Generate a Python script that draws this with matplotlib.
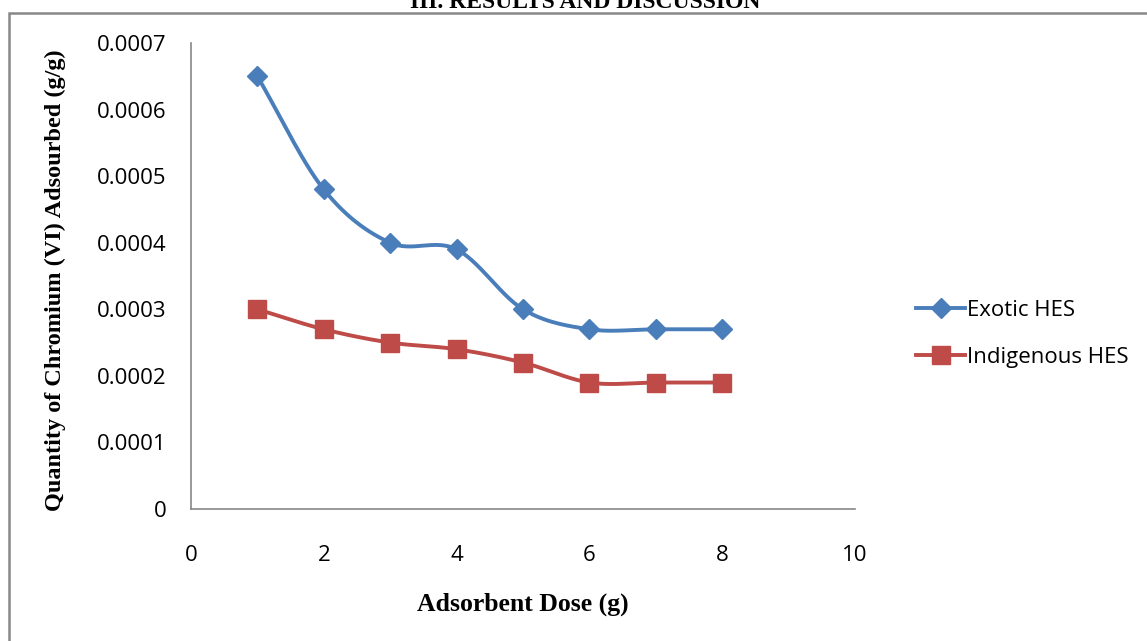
import numpy as np
import matplotlib
matplotlib.use("Agg")
import matplotlib.pyplot as plt
from matplotlib.patches import Rectangle

# data
dose = [1, 2, 3, 4, 5, 6, 7, 8]
exotic = [0.00065, 0.00048, 0.00040, 0.00039, 0.00030, 0.00027, 0.00027, 0.00027]
indigenous = [0.00030, 0.00027, 0.00025, 0.00024, 0.00022, 0.00019, 0.00019, 0.00019]
y_ticks = [0, 0.0001, 0.0002, 0.0003, 0.0004, 0.0005, 0.0006, 0.0007]
y_tick_labels = ["0", "0.0001", "0.0002", "0.0003", "0.0004", "0.0005", "0.0006", "0.0007"]
x_ticks = [0, 2, 4, 6, 8, 10]


def smooth(x, y, n=30):
    # Catmull-Rom style smoothing like Excel's "smoothed line"
    x = np.asarray(x, float)
    y = np.asarray(y, float)
    px = np.concatenate([[2 * x[0] - x[1]], x, [2 * x[-1] - x[-2]]])
    py = np.concatenate([[2 * y[0] - y[1]], y, [2 * y[-1] - y[-2]]])
    xs, ys = [], []
    t = np.linspace(0, 1, n)
    for i in range(1, len(px) - 2):
        p0, p1, p2, p3 = [np.array([px[j], py[j]]) for j in (i - 1, i, i + 1, i + 2)]
        m1 = (p2 - p0) / 2
        m2 = (p3 - p1) / 2
        h00 = 2 * t**3 - 3 * t**2 + 1
        h10 = t**3 - 2 * t**2 + t
        h01 = -2 * t**3 + 3 * t**2
        h11 = t**3 - t**2
        pts = (np.outer(h00, p1) + np.outer(h10, m1) + np.outer(h01, p2) + np.outer(h11, m2))
        xs.extend(pts[:, 0])
        ys.extend(pts[:, 1])
    return xs, ys


blue = "#4A7EBB"
red = "#BE4B48"

fig = plt.figure(figsize=(11.47, 6.41), dpi=100)
ax = fig.add_axes([0.1665, 0.2059, 0.579, 0.727])

sx, sy = smooth(dose, exotic)
ax.plot(sx, sy, color=blue, lw=2.8, solid_capstyle="round")
ax.plot(dose, exotic, ls="none", marker="D", ms=10, color=blue)
sx, sy = smooth(dose, indigenous)
ax.plot(sx, sy, color=red, lw=2.8, solid_capstyle="round")
ax.plot(dose, indigenous, ls="none", marker="s", ms=12.5, color=red)

# legend proxies
ax.plot([], [], color=blue, lw=2.8, marker="D", ms=10, label="Exotic HES")
ax.plot([], [], color=red, lw=2.8, marker="s", ms=12.5, label="Indigenous HES")

ax.set_xlim(0, 10)
ax.set_ylim(0, 0.0007)
ax.set_xticks(x_ticks)
ax.set_yticks(y_ticks)
ax.set_yticklabels(y_tick_labels)
ax.tick_params(length=0, labelsize=16)
ax.tick_params(axis="y", pad=17.5)
ax.tick_params(axis="x", pad=26)
for lab in ax.get_xticklabels() + ax.get_yticklabels():
    lab.set_fontfamily("Open Sans")
for s in ("top", "right"):
    ax.spines[s].set_visible(False)
for s in ("left", "bottom"):
    ax.spines[s].set_color("#888888")
    ax.spines[s].set_linewidth(1.2)

fig.text(0.456, 1 - 604 / 641, "Adsorbent Dose (g)", ha="center", va="center",
         family="Liberation Serif", weight="bold", fontsize=18.5)
fig.text(0.048, 1 - 280 / 641, "Quantity of Chromium (VI) Adsourbed (g/g)", ha="center",
         va="center", rotation=90, family="Liberation Serif", weight="bold", fontsize=17.5)

fig.legend(loc="center left", bbox_to_anchor=(0.791, 1 - 334 / 641), frameon=False,
           prop={"family": "Open Sans", "size": 16}, handlelength=2.2,
           handletextpad=0.1, labelspacing=1.15, borderaxespad=0)

fig.text(0.51, 1 - 8 / 641, "III. RESULTS AND DISCUSSION", ha="center", va="baseline",
         family="Liberation Serif", weight="bold", fontsize=17)

fig.patches.append(Rectangle((9 / 1147, -0.1), 1.2, 1.1 - 13 / 641,
                             transform=fig.transFigure, fill=False,
                             edgecolor="#888888", lw=1.8, clip_on=False))

fig.savefig("out.png", dpi=100)
